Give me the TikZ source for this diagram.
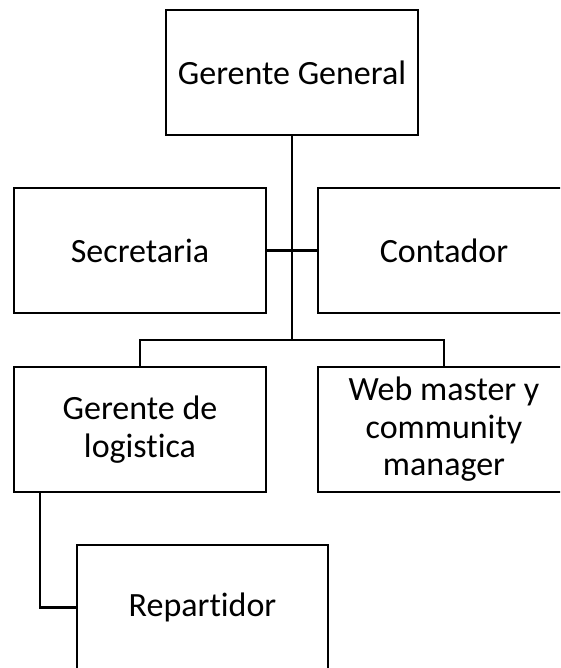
\documentclass[tikz,border=0pt]{standalone}
\usepackage{fontspec}
\setmainfont{Carlito}[Ligatures={NoCommon,NoRare}]
\begin{document}
\begin{tikzpicture}[x=1pt,y=-1pt,
  orgbox/.style={draw=black,line width=2.5pt,fill=white,minimum width=252pt,minimum height=125pt,inner sep=0pt,align=center,font=\fontsize{34}{37.5}\selectfont},
  link/.style={draw=black,line width=2.5pt}]
\useasboundingbox (0,0) rectangle (560,668);
\clip (0,0) rectangle (560,668);
\node[orgbox] (gg) at (292,72.5) {Gerente General};
\node[orgbox] (sec) at (140,250.5) {Secretaria};
\node[orgbox] (con) at (444,250.5) {Contador};
\node[orgbox] (log) at (140,429.5) {Gerente de\\logistica};
\node[orgbox] (web) at (444,429.5) {Web master y\\community\\manager};
\node[orgbox,minimum width=251pt] (rep) at (202.5,607.5) {Repartidor};
\coordinate (busc) at (292,340);
\coordinate (busl) at (140,340);
\coordinate (busr) at (444,340);
\coordinate (lk) at (40,492);
\coordinate (lc) at (40,607.5);
\draw[link] (gg.south) -- (busc);
\draw[link] (sec.east) -- (con.west);
\draw[link] (log.north) -- (busl) -- (busr) -- (web.north);
\draw[link] (lk) -- (lc) -- (rep.west);
\end{tikzpicture}
\end{document}
